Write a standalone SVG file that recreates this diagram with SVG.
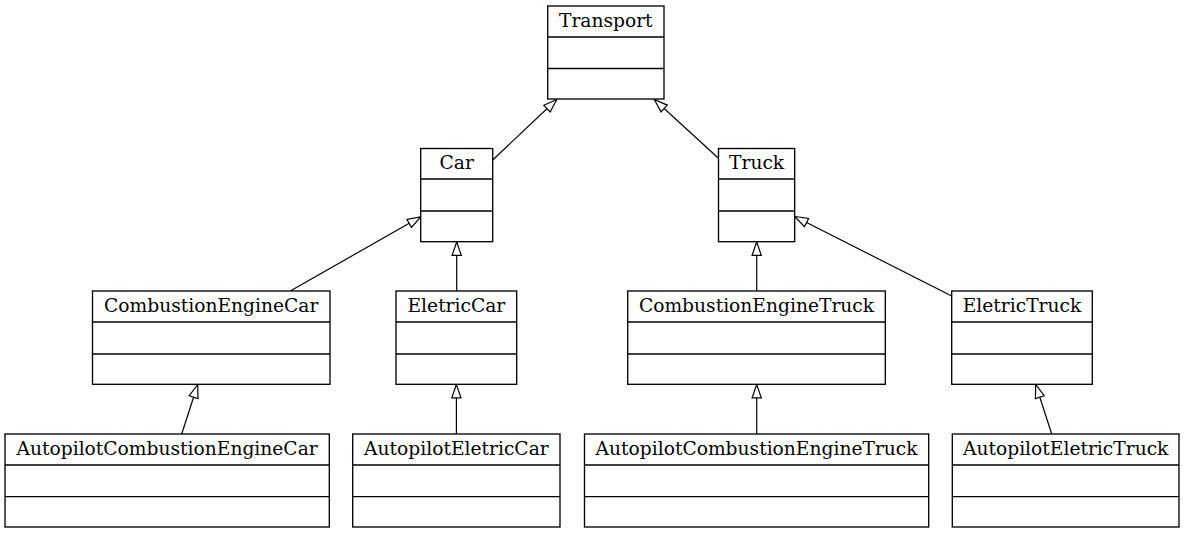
<svg xmlns="http://www.w3.org/2000/svg" width="1185" height="533" viewBox="0 0 1185 533">
<style>
.box{fill:#fff;stroke:#000;stroke-width:1.33}
.div{stroke:#000;stroke-width:1.33}
.lbl{font-family:"DejaVu Serif","Liberation Serif",serif;font-size:18.67px;fill:#000;text-anchor:middle}
.edge{stroke:#000;stroke-width:1.2;fill:none;marker-end:url(#inh)}
</style>
<defs>
<marker id="inh" markerUnits="userSpaceOnUse" viewBox="0 0 16 12" markerWidth="16" markerHeight="12" refX="14.3" refY="6" orient="auto">
<path d="M14.3,6 L1,1.4 L1,10.6 Z" fill="#fff" stroke="#000" stroke-width="1.2"/>
</marker>
</defs>
<rect width="1185" height="533" fill="#fff"/>
<g id="connectors">
<line class="edge" x1="492.7" y1="160" x2="556.7" y2="99.5"/>
<line class="edge" x1="718.5" y1="158.3" x2="654.3" y2="99.5"/>
<line class="edge" x1="290.7" y1="290.7" x2="420.7" y2="216.8"/>
<line class="edge" x1="456.7" y1="291" x2="456.7" y2="242"/>
<line class="edge" x1="756.7" y1="291" x2="756.7" y2="242"/>
<line class="edge" x1="951.7" y1="296" x2="794.7" y2="216.5"/>
<line class="edge" x1="181.7" y1="434" x2="197.7" y2="384.5"/>
<line class="edge" x1="456.4" y1="434" x2="456.4" y2="384.5"/>
<line class="edge" x1="756.7" y1="434" x2="756.7" y2="384.5"/>
<line class="edge" x1="1051.7" y1="434" x2="1035.7" y2="384.5"/>
</g>
<g id="Transport">
<rect class="box" x="547.7" y="6" width="116.3" height="93"/>
<line class="div" x1="547.7" y1="37" x2="664" y2="37"/>
<line class="div" x1="547.7" y1="68.5" x2="664" y2="68.5"/>
<text class="lbl" x="605.8" y="26.7">Transport</text>
</g>
<g id="Car">
<rect class="box" x="420.7" y="148.5" width="72" height="93.2"/>
<line class="div" x1="420.7" y1="179" x2="492.7" y2="179"/>
<line class="div" x1="420.7" y1="211" x2="492.7" y2="211"/>
<text class="lbl" x="456.7" y="168.8">Car</text>
</g>
<g id="Truck">
<rect class="box" x="718.5" y="148.5" width="76.2" height="93.2"/>
<line class="div" x1="718.5" y1="179" x2="794.7" y2="179"/>
<line class="div" x1="718.5" y1="211" x2="794.7" y2="211"/>
<text class="lbl" x="756.6" y="168.8">Truck</text>
</g>
<g id="CombustionEngineCar">
<rect class="box" x="92.5" y="291" width="237.5" height="93.3"/>
<line class="div" x1="92.5" y1="322" x2="330" y2="322"/>
<line class="div" x1="92.5" y1="354" x2="330" y2="354"/>
<text class="lbl" x="211.2" y="311.5">CombustionEngineCar</text>
</g>
<g id="EletricCar">
<rect class="box" x="396" y="291" width="120.7" height="93.3"/>
<line class="div" x1="396" y1="322" x2="516.7" y2="322"/>
<line class="div" x1="396" y1="354" x2="516.7" y2="354"/>
<text class="lbl" x="456.4" y="311.5">EletricCar</text>
</g>
<g id="CombustionEngineTruck">
<rect class="box" x="627.7" y="291" width="257.6" height="93.3"/>
<line class="div" x1="627.7" y1="322" x2="885.3" y2="322"/>
<line class="div" x1="627.7" y1="354" x2="885.3" y2="354"/>
<text class="lbl" x="756.5" y="311.5">CombustionEngineTruck</text>
</g>
<g id="EletricTruck">
<rect class="box" x="951.7" y="291" width="140.6" height="93.3"/>
<line class="div" x1="951.7" y1="322" x2="1092.3" y2="322"/>
<line class="div" x1="951.7" y1="354" x2="1092.3" y2="354"/>
<text class="lbl" x="1022" y="311.5">EletricTruck</text>
</g>
<g id="AutopilotCombustionEngineCar">
<rect class="box" x="5" y="434" width="324.3" height="93"/>
<line class="div" x1="5" y1="465" x2="329.3" y2="465"/>
<line class="div" x1="5" y1="496.7" x2="329.3" y2="496.7"/>
<text class="lbl" x="167.1" y="454.5">AutopilotCombustionEngineCar</text>
</g>
<g id="AutopilotEletricCar">
<rect class="box" x="352.7" y="434" width="207.3" height="93"/>
<line class="div" x1="352.7" y1="465" x2="560" y2="465"/>
<line class="div" x1="352.7" y1="496.7" x2="560" y2="496.7"/>
<text class="lbl" x="456.4" y="454.5">AutopilotEletricCar</text>
</g>
<g id="AutopilotCombustionEngineTruck">
<rect class="box" x="584.5" y="434" width="344.2" height="93"/>
<line class="div" x1="584.5" y1="465" x2="928.7" y2="465"/>
<line class="div" x1="584.5" y1="496.7" x2="928.7" y2="496.7"/>
<text class="lbl" x="756.6" y="454.5">AutopilotCombustionEngineTruck</text>
</g>
<g id="AutopilotEletricTruck">
<rect class="box" x="952.3" y="434" width="226.7" height="93"/>
<line class="div" x1="952.3" y1="465" x2="1179" y2="465"/>
<line class="div" x1="952.3" y1="496.7" x2="1179" y2="496.7"/>
<text class="lbl" x="1065.7" y="454.5">AutopilotEletricTruck</text>
</g>
</svg>
